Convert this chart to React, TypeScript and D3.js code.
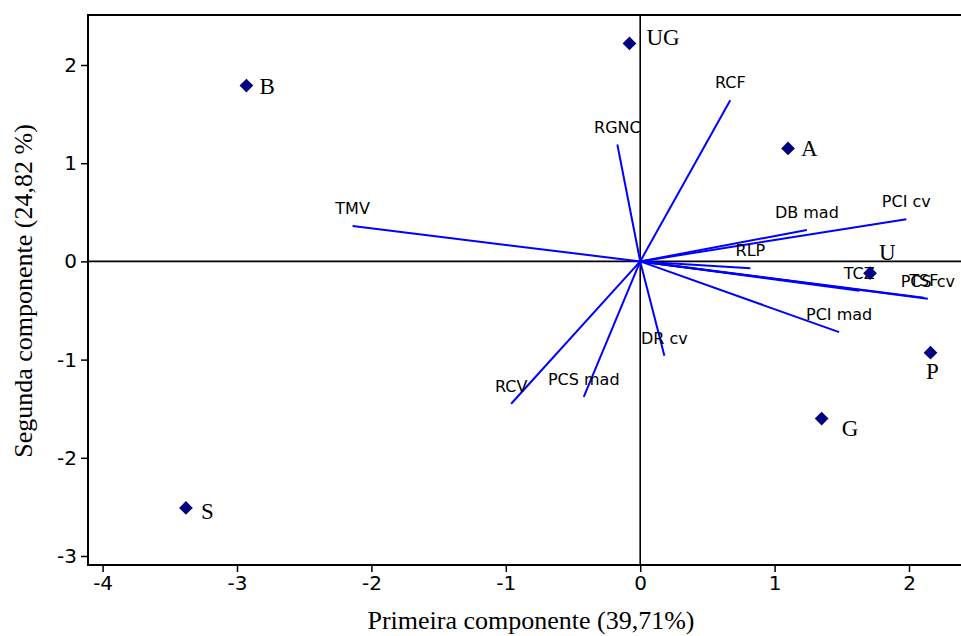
import React, { useEffect, useRef } from 'react';
import * as d3 from 'd3';

// scores of the sites
const siteNames = ['UG', 'B', 'A', 'U', 'P', 'G', 'S'];
const siteX = [-0.08, -2.93, 1.10, 1.71, 2.16, 1.35, -3.38];
const siteY = [2.22, 1.79, 1.15, -0.12, -0.93, -1.60, -2.51];

// variable loadings (vectors)
const varNames = ['RCF', 'RGNC', 'TMV', 'DB mad', 'PCI cv', 'RLP', 'TCZ', 'TSF', 'PCS cv', 'PCI mad', 'DR cv', 'PCS mad', 'RCV'];
const varX = [0.67, -0.17, -2.14, 1.24, 1.98, 0.82, 1.63, 2.11, 2.14, 1.48, 0.18, -0.42, -0.96];
const varY = [1.64, 1.19, 0.36, 0.32, 0.43, -0.07, -0.30, -0.37, -0.38, -0.72, -0.96, -1.38, -1.45];

const xTicks = [-4, -3, -2, -1, 0, 1, 2];
const yTicks = [-3, -2, -1, 0, 1, 2];

const xTitle = 'Primeira componente (39,71%)';
const yTitle = 'Segunda componente (24,82 %)';

// where each site label sits relative to its marker
const labelPlace: Record<string, [number, number, string]> = {
  UG: [17, 2, 'start'],
  B: [13, 8, 'start'],
  A: [13, 8, 'start'],
  U: [9, -13, 'start'],
  P: [2, 26, 'middle'],
  G: [20, 17, 'start'],
  S: [15, 11, 'start'],
};

function App() {
  const ref = useRef<SVGSVGElement>(null);

  useEffect(() => {
    const svg = d3.select(ref.current);
    svg.selectAll('*').remove();

    const left = 88, top = 15, bottom = 565;
    const x = d3.scaleLinear().domain([-4, 2]).range([102.6, 909]);
    const y = d3.scaleLinear().domain([-3, 2]).range([556, 65]);

    const serif = '"Liberation Serif", "Times New Roman", serif';
    const sans = 'Verdana, "DejaVu Sans", sans-serif';
    const fmt = (d: any) => String(d);

    // frame
    svg.append('path')
      .attr('d', `M965,${top}H${left}V${bottom}H965`)
      .attr('fill', 'none')
      .attr('stroke', '#000')
      .attr('stroke-width', 2);

    const xAxis = svg.append('g')
      .attr('transform', `translate(0,${bottom})`)
      .call(d3.axisBottom(x).tickValues(xTicks).tickSize(7).tickPadding(4).tickFormat(fmt));
    xAxis.select('.domain').remove();
    xAxis.selectAll('line').attr('stroke', '#000').attr('stroke-width', 1.5);
    xAxis.selectAll('text').attr('font-family', sans).attr('font-size', 20).attr('fill', '#000');

    const yAxis = svg.append('g')
      .attr('transform', `translate(${left},0)`)
      .call(d3.axisLeft(y).tickValues(yTicks).tickSize(7).tickPadding(4).tickFormat(fmt));
    yAxis.select('.domain').remove();
    yAxis.selectAll('line').attr('stroke', '#000').attr('stroke-width', 1.5);
    yAxis.selectAll('text').attr('font-family', sans).attr('font-size', 20).attr('fill', '#000');

    // reference lines through the origin
    svg.append('line')
      .attr('x1', left).attr('x2', 965)
      .attr('y1', y(0)).attr('y2', y(0))
      .attr('stroke', '#000').attr('stroke-width', 1.6);
    svg.append('line')
      .attr('x1', x(0)).attr('x2', x(0))
      .attr('y1', top).attr('y2', bottom)
      .attr('stroke', '#000').attr('stroke-width', 1.6);

    // vectors
    const vars = varNames.map((n, i) => ({ n, vx: varX[i], vy: varY[i] }));
    svg.selectAll('.vec')
      .data(vars)
      .enter()
      .append('line')
      .attr('class', 'vec')
      .attr('x1', x(0)).attr('y1', y(0))
      .attr('x2', d => x(d.vx)).attr('y2', d => y(d.vy))
      .attr('stroke', '#0000ff')
      .attr('stroke-width', 2);

    svg.selectAll('.vlab')
      .data(vars)
      .enter()
      .append('text')
      .attr('class', 'vlab')
      .attr('x', d => x(d.vx))
      .attr('y', d => y(d.vy) - 12)
      .attr('text-anchor', 'middle')
      .attr('font-family', sans)
      .attr('font-size', 16)
      .attr('fill', '#000')
      .text(d => d.n);

    // sites
    const sites = siteNames.map((n, i) => ({ n, sx: siteX[i], sy: siteY[i] }));
    svg.selectAll('.site')
      .data(sites)
      .enter()
      .append('path')
      .attr('class', 'site')
      .attr('d', d3.symbol(d3.symbolDiamond2, 120))
      .attr('transform', d => `translate(${x(d.sx)},${y(d.sy)})`)
      .attr('fill', '#000080');

    svg.selectAll('.slab')
      .data(sites)
      .enter()
      .append('text')
      .attr('class', 'slab')
      .attr('x', d => x(d.sx) + labelPlace[d.n][0])
      .attr('y', d => y(d.sy) + labelPlace[d.n][1])
      .attr('text-anchor', d => labelPlace[d.n][2])
      .attr('font-family', serif)
      .attr('font-size', 23)
      .attr('fill', '#000')
      .text(d => d.n);

    // titles
    svg.append('text')
      .attr('x', 531).attr('y', 629)
      .attr('text-anchor', 'middle')
      .attr('font-family', serif)
      .attr('font-size', 26)
      .text(xTitle);

    svg.append('text')
      .attr('transform', 'translate(32,291) rotate(-90)')
      .attr('text-anchor', 'middle')
      .attr('font-family', serif)
      .attr('font-size', 26)
      .text(yTitle);
  }, []);

  return (
    <div style={{ position: 'absolute', left: 0, top: 0 }}>
      <svg ref={ref} width={961} height={636} style={{ display: 'block', background: '#fff' }}></svg>
    </div>
  );
}

export default App;
